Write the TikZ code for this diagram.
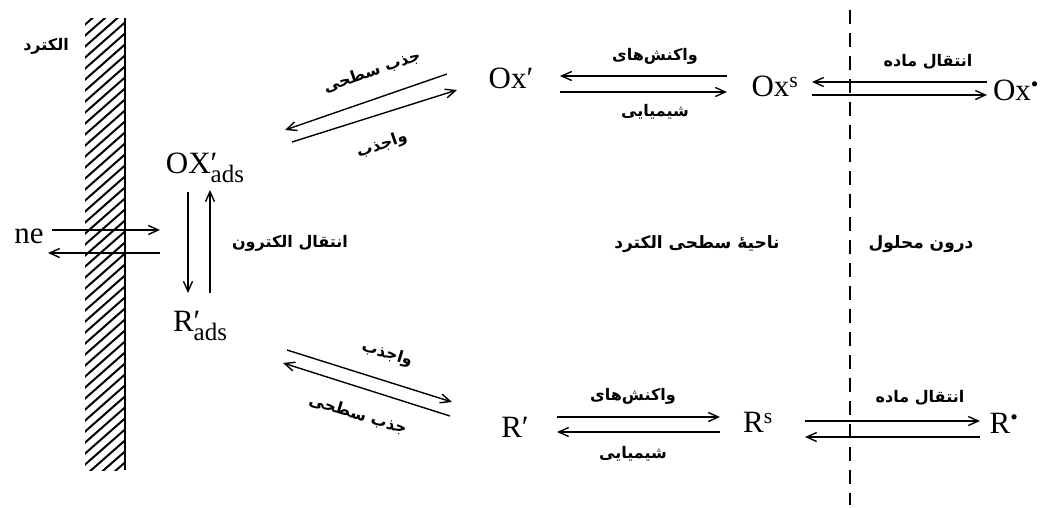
\documentclass[tikz,border=0pt]{standalone}
\usepackage{fontspec}
\setmainfont{Liberation Serif}
\newfontfamily\fa[Script=Arabic]{DejaVu Sans}
\TeXXeTstate=1
\usetikzlibrary{arrows.meta}
\newcommand\adsub{\raisebox{-0.3em}{\fontsize{25}{25}\selectfont ads}}
\begin{document}
\begin{tikzpicture}[x=1pt,y=-1pt,
  sp/.style={inner sep=0pt, font=\fontsize{31}{33}\selectfont},
  lbl/.style={inner sep=0pt, font=\fontsize{16}{18}\selectfont\fa\bfseries},
  arr/.style={line width=1.4pt, -{Straight Barb[length=10pt,width=9pt]}},
  hatch/.style={line width=2pt},
  wall/.style={line width=2.5pt},
  bound/.style={line width=1.4pt, dash pattern=on 14pt off 9pt}
]
\useasboundingbox (0,0) rectangle (1047,507);
% electrode
\begin{scope}
  \clip (85,18) rectangle (125,470);
  \foreach \y in {18,29,...,520} {\draw[hatch] (80,\y) -- (130,\y-44);}
\end{scope}
\coordinate (wt) at (125,18);
\coordinate (wb) at (125,470);
\draw[wall] (wt) -- (wb);
\node[lbl] (elec) at (46,46) {\beginR الکترد\endR};
% boundary
\coordinate (bt) at (850,10);
\coordinate (bb) at (850,505);
\draw[bound] (bt) -- (bb);
% species
\node[sp] (ne) at (29,236) {ne};
\node[sp] (oxa) at (205,168) {OX\rlap{′}\adsub};
\node[sp] (ra) at (200,326) {R\rlap{′}\adsub};
\node[sp] (oxp) at (511,78) {Ox′};
\node[sp] (oxs) at (775,86) {Ox\textsuperscript{s}};
\node[sp] (oxb) at (1016,90) {Ox\textsuperscript{•}};
\node[sp] (rp) at (515,427) {R′};
\node[sp] (rs) at (758,422) {R\textsuperscript{s}};
\node[sp] (rb) at (1004,423) {R\textsuperscript{•}};
% electron transfer at electrode
\coordinate (e1a) at (52,230); \coordinate (e1b) at (160,230);
\coordinate (e2a) at (160,253); \coordinate (e2b) at (48,253);
\draw[arr] (e1a) -- (e1b);
\draw[arr] (e2a) -- (e2b);
% OX'ads <-> R'ads
\coordinate (v1a) at (188,192); \coordinate (v1b) at (188,293);
\coordinate (v2a) at (210,293); \coordinate (v2b) at (210,190);
\draw[arr] (v1a) -- (v1b);
\draw[arr] (v2a) -- (v2b);
\node[lbl] (etr) at (290,243) {\beginR انتقال الکترون\endR};
% top diagonal
\coordinate (d1a) at (447,74); \coordinate (d1b) at (285,130);
\coordinate (d2a) at (292,142); \coordinate (d2b) at (457,90);
\draw[arr] (d1a) -- (d1b);
\draw[arr] (d2a) -- (d2b);
\node[lbl, rotate=19] (t1) at (372,72) {\beginR جذب سطحی\endR};
\node[lbl, rotate=19] (t2) at (382,145) {\beginR واجذب\endR};
% top chemical
\coordinate (c1a) at (727,76); \coordinate (c1b) at (560,76);
\coordinate (c2a) at (560,92); \coordinate (c2b) at (727,92);
\draw[arr] (c1a) -- (c1b);
\draw[arr] (c2a) -- (c2b);
\node[lbl] (t3) at (655,56) {\beginR واکنش‌های\endR};
\node[lbl] (t4) at (655,112) {\beginR شیمیایی\endR};
% top mass transfer
\coordinate (m1a) at (987,82); \coordinate (m1b) at (812,82);
\coordinate (m2a) at (812,95); \coordinate (m2b) at (987,95);
\draw[arr] (m1a) -- (m1b);
\draw[arr] (m2a) -- (m2b);
\node[lbl] (t5) at (928,62) {\beginR انتقال ماده\endR};
% middle region labels
\node[lbl, font=\fontsize{17}{19}\selectfont\fa\bfseries] (reg1) at (697,244) {\beginR ناحیهٔ سطحی الکترد\endR};
\node[lbl, font=\fontsize{17}{19}\selectfont\fa\bfseries] (reg2) at (921,244) {\beginR درون محلول\endR};
% bottom diagonal
\coordinate (d3a) at (287,350); \coordinate (d3b) at (452,402);
\coordinate (d4a) at (450,416); \coordinate (d4b) at (283,363);
\draw[arr] (d3a) -- (d3b);
\draw[arr] (d4a) -- (d4b);
\node[lbl, rotate=-17] (t6) at (387,354) {\beginR واجذب\endR};
\node[lbl, rotate=-17] (t7) at (358,415) {\beginR جذب سطحی\endR};
% bottom chemical
\coordinate (c3a) at (557,417); \coordinate (c3b) at (720,417);
\coordinate (c4a) at (720,432); \coordinate (c4b) at (557,432);
\draw[arr] (c3a) -- (c3b);
\draw[arr] (c4a) -- (c4b);
\node[lbl] (t8) at (633,396) {\beginR واکنش‌های\endR};
\node[lbl] (t9) at (633,454) {\beginR شیمیایی\endR};
% bottom mass transfer
\coordinate (m3a) at (805,421); \coordinate (m3b) at (980,421);
\coordinate (m4a) at (980,437); \coordinate (m4b) at (805,437);
\draw[arr] (m3a) -- (m3b);
\draw[arr] (m4a) -- (m4b);
\node[lbl] (t10) at (920,398) {\beginR انتقال ماده\endR};
\end{tikzpicture}
\end{document}
